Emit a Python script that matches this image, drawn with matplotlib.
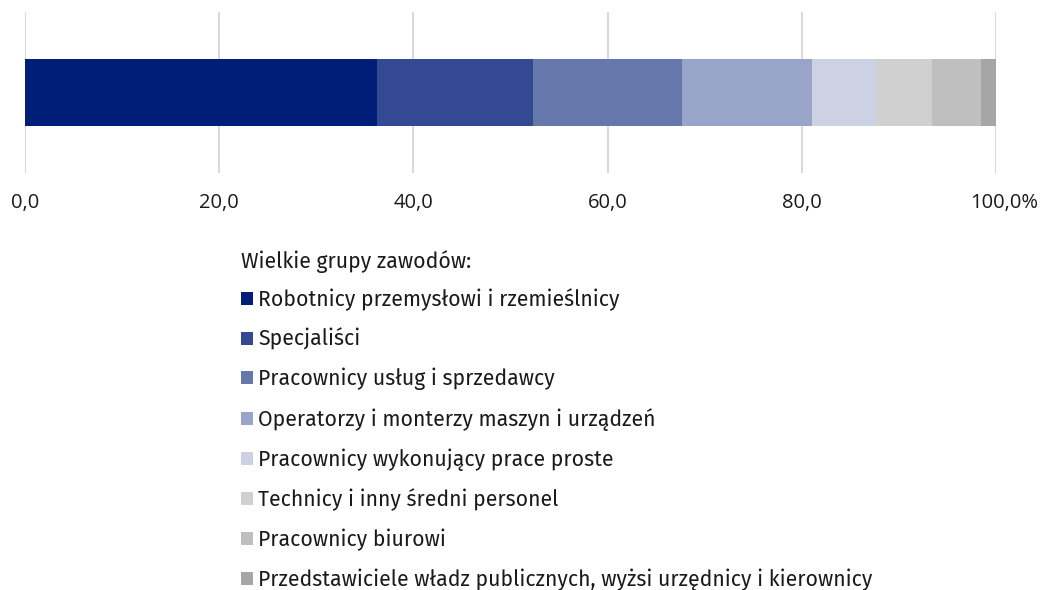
import matplotlib
matplotlib.use("Agg")
import matplotlib.pyplot as plt
import matplotlib.transforms as mtransforms

categories = [
    "Robotnicy przemysłowi i rzemieślnicy",
    "Specjaliści",
    "Pracownicy usług i sprzedawcy",
    "Operatorzy i monterzy maszyn i urządzeń",
    "Pracownicy wykonujący prace proste",
    "Technicy i inny średni personel",
    "Pracownicy biurowi",
    "Przedstawiciele władz publicznych, wyżsi urzędnicy i kierownicy",
]
values = [36.3, 16.0, 15.4, 13.4, 6.5, 5.8, 5.1, 1.5]
colors = ["#001e78", "#334a93", "#6677ab", "#99a5c8", "#ccd1e4", "#d0d0d0", "#bfbfbf", "#a6a6a6"]
tick_values = [0, 20, 40, 60, 80, 100]
tick_labels = ["0,0", "20,0", "40,0", "60,0", "80,0", "100,0%"]
legend_title = "Wielkie grupy zawodów:"

plt.rcParams["font.family"] = ["Fira Sans", "Open Sans", "DejaVu Sans"]
W, H = 1041, 590
fig = plt.figure(figsize=(W / 100, H / 100), dpi=100)
ax = fig.add_axes([25 / W, 1 - 173 / H, (996 - 25) / W, (173 - 12) / H])

left = 0
handles = []
for cat, v, c in zip(categories, values, colors):
    b = ax.barh([0], [v], left=left, height=0.41, color=c, label=cat, zorder=3)
    handles.append(b)
    left += v

ax.set_xlim(0, 100)
ax.set_ylim(-0.5, 0.5)
ax.set_yticks([])
ax.set_xticks(tick_values)
ax.set_xticklabels(tick_labels, fontsize=14.5, color="#1a1a1a", family="Open Sans")
ax.tick_params(axis="x", length=0, pad=14.5)
# keep "100,0" centred on its gridline, with "%" extending to the right
last = ax.get_xticklabels()[-1]
last.set_transform(last.get_transform() + mtransforms.ScaledTranslation(8 / 100, 0, fig.dpi_scale_trans))
ax.grid(axis="x", color="#d9d9d9", linewidth=1.5, zorder=0)
for s in ax.spines.values():
    s.set_visible(False)

fig.text(241 / W, 1 - 262 / H, legend_title, fontsize=15.3, color="#1a1a1a",
         ha="left", va="center")

leg = fig.legend(handles=handles, labels=categories,
                 loc="upper left", bbox_to_anchor=(241 / W, 1 - 288 / H),
                 frameon=False, fontsize=15.3,
                 handlelength=0.56, handleheight=0.56, handletextpad=0.25,
                 labelspacing=0.825, borderpad=0, borderaxespad=0)
for t in leg.get_texts():
    t.set_color("#1a1a1a")

fig.savefig("out.png", dpi=100)
